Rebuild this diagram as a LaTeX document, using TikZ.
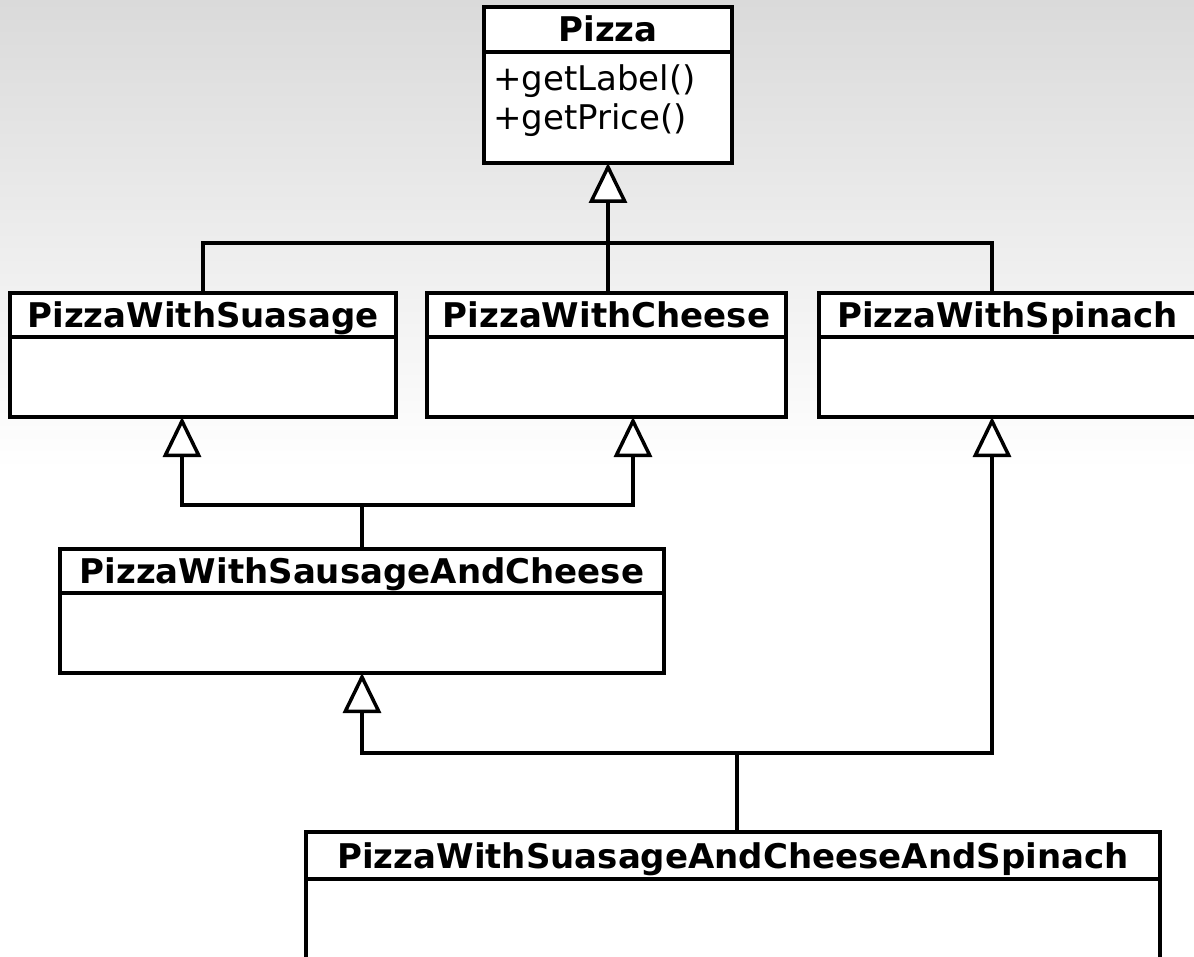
\documentclass[tikz,border=0pt]{standalone}
\usepackage{fontspec}
\setmainfont{DejaVu Sans}
\usetikzlibrary{arrows.meta,calc}

\tikzset{
  x=1pt, y=-1pt,
  umlbox/.style={draw, line width=3.5pt, fill=white, rectangle, inner sep=0pt,
                 outer sep=0pt, anchor=north west},
  classtitle/.style={inner sep=0pt, anchor=base,
                     font=\fontsize{34}{40}\selectfont\bfseries},
  member/.style={inner sep=0pt, anchor=base west,
                 font=\fontsize{34}{40}\selectfont},
  wire/.style={draw, line width=3.5pt, line join=miter},
  gen/.style={wire, -{Triangle[length=40pt, width=38pt, fill=white, line join=miter]}},
}

% #1 name, #2 x, #3 y, #4 width, #5 height, #6 title band height, #7 title
\newcommand{\umlclass}[7]{%
  \node[umlbox, minimum width=#4pt, minimum height=#5pt] (#1) at (#2,#3) {};
  \draw[line width=3.5pt] ($(#1.north west)+(0,#6)$) -- ($(#1.north east)+(0,#6)$);
  \node[classtitle] (#1-title) at ($(#1.north)+(0,#6/2+12.5)$) {#7};
}

\begin{document}
\begin{tikzpicture}
  \useasboundingbox (0,0) rectangle (1194,957);
  \clip (0,0) rectangle (1194,957);

  % soft grey backdrop fading to white
  \fill[white] (0,0) rectangle (1194,957);
  \shade[top color={rgb,255:red,218;green,218;blue,218}, bottom color=white]
        (0,0) rectangle (1194,470);

  % classes
  \umlclass{pizza}{484}{7}{248}{156}{45}{Pizza}
  \node[member] (getlabel) at (493,91) {+getLabel()};
  \node[member] (getprice) at (493,130) {+getPrice()};

  \umlclass{sausage}{10}{293}{386}{124}{44}{PizzaWithSuasage}
  \umlclass{cheese}{427}{293}{359}{124}{44}{PizzaWithCheese}
  \umlclass{spinach}{819}{293}{377}{124}{44}{PizzaWithSpinach}
  \umlclass{sc}{60}{549}{604}{124}{44}{PizzaWithSausageAndCheese}
  \umlclass{scs}{306}{832}{854}{150}{47}{PizzaWithSuasageAndCheeseAndSpinach}

  % junction points of the generalisation trees
  \coordinate (bus1) at (608,243);
  \coordinate (bus2) at (362,505);
  \coordinate (bus3) at (737,753);

  % first level: the three toppings specialise Pizza
  \draw[gen] (sausage.north) |- (bus1) -- (pizza.south);
  \draw[wire] (bus1 |- cheese.north) -- (bus1);
  \draw[wire] (992,0 |- spinach.north) |- (bus1);

  % second level: sausage and cheese combined
  \draw[wire] (sc.north) -- (bus2);
  \draw[gen] (bus2) -| (182,0 |- sausage.south);
  \draw[gen] (bus2) -| (633,0 |- cheese.south);

  % third level: sausage, cheese and spinach combined
  \draw[wire] (737,0 |- scs.north) -- (bus3);
  \draw[gen] (bus3) -| (sc.south);
  \draw[gen] (bus3) -| (992,0 |- spinach.south);
\end{tikzpicture}
\end{document}
